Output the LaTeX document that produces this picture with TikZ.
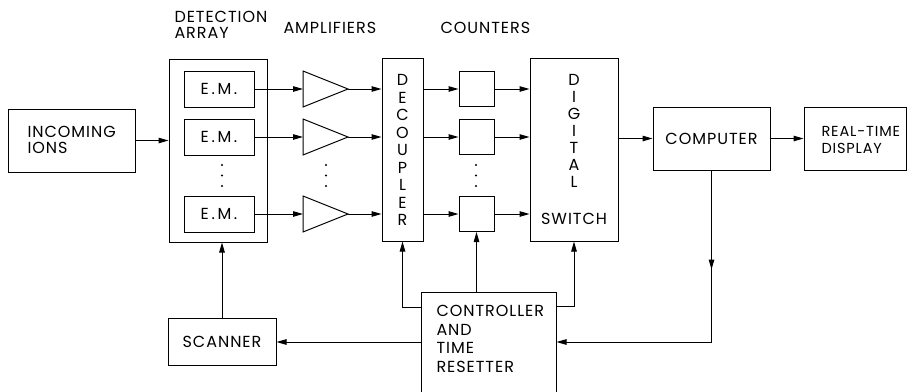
\documentclass[tikz,border=0pt]{standalone}
\usepackage{fontspec}
\setmainfont{Poppins}[LetterSpace=6]
\usetikzlibrary{arrows.meta}
\newcommand\myfs[1]{\fontsize{16}{#1}\selectfont}
\begin{document}
\begin{tikzpicture}[x=1pt,y=-1pt,
  line width=1pt,
  box/.style={draw, rectangle, inner sep=0pt, font=\myfs{17}},
  arr/.style={-{Triangle[length=10pt,width=5.5pt]}},
  lbl/.style={inner sep=0pt, align=left, anchor=west},
  dotc/.style={circle, fill, inner sep=0pt, minimum size=2.2pt},
  vtext/.style={inner sep=0pt, align=center}]
\path[use as bounding box] (0,0) rectangle (909,391);
\clip (0,0) rectangle (909,391);
\fill[white] (0,0) rectangle (909,391);

% top labels
\node[lbl, font=\myfs{16}] (lda) at (174,25) {DETECTION\\ARRAY};
\node[lbl, font=\myfs{16}] (lamp) at (283,28) {AMPLIFIERS};
\node[lbl, font=\myfs{16}] (lcnt) at (440,28) {COUNTERS};

% boxes
\node[box, minimum width=127pt, minimum height=63pt] (ions) at (71.5,140.5) {};
\node[lbl, font=\myfs{16}] (ionst) at (27,139.5) {INCOMING\\IONS};
\node[box, minimum width=98pt, minimum height=183pt] (array) at (218,150.5) {};
\node[box, minimum width=70pt, minimum height=36pt] (em1) at (219,89) {E\,.\,M\,.};
\node[box, minimum width=70pt, minimum height=36pt] (em2) at (219,137) {E\,.\,M\,.};
\node[box, minimum width=70pt, minimum height=36pt] (em3) at (219,214) {E\,.\,M\,.};

% amplifiers
\foreach \i/\y in {1/89,2/137,3/214}{
  \coordinate (a\i i) at (303,\y);
  \coordinate (a\i o) at (348,\y);
  \draw (303,\y-18) -- (a\i o) -- (303,\y+18) -- cycle;
}

\node[box, minimum width=41pt, minimum height=183pt] (dec) at (402.5,149.5) {};
\node[vtext, font=\myfs{17.5}] (dect) at (402.5,150) {D\\E\\C\\O\\U\\P\\L\\E\\R};

\node[box, minimum width=35pt, minimum height=35pt] (c1) at (476.5,89) {};
\node[box, minimum width=35pt, minimum height=35pt] (c2) at (476.5,137) {};
\node[box, minimum width=35pt, minimum height=35pt] (c3) at (476.5,214) {};

\node[box, minimum width=88pt, minimum height=183pt] (sw) at (574,149.5) {};
\node[vtext, font=\myfs{17}] (swt1) at (574,131) {D\\I\\G\\I\\T\\A\\L};
\node[vtext, font=\myfs{17}] (swt2) at (574,219) {SWITCH};

\node[box, minimum width=117pt, minimum height=63pt] (comp) at (711.5,138.5) {COMPUTER};
\node[box, minimum width=102pt, minimum height=63pt] (disp) at (855,138.5) {};
\node[lbl, font=\fontsize{14.5}{17.5}\selectfont] (dispt) at (821,140) {REAL-TIME\\DISPLAY};

\node[box, minimum width=135pt, minimum height=108pt] (ctrl) at (488.5,346) {};
\node[lbl, anchor=north west, font=\myfs{18.5}] (ctrlt) at (436,305) {CONTROLLER\\AND\\TIME\\RESETTER};

\node[box, minimum width=108pt, minimum height=47pt] (scan) at (222,342) {SCANNER};

% dots
\foreach \x in {222,326,476}{
  \foreach \y in {165,175.5,186}{
    \node[dotc] at (\x,\y) {};
  }
}

% connectors
\draw[arr] (ions.east) -- (ions.east -| array.west);
\foreach \i in {1,2,3}{
  \draw[arr] (em\i.east) -- (a\i i);
  \draw[arr] (a\i o) -- (a\i o -| dec.west);
  \draw[arr] (c\i.west -| dec.east) -- (c\i.west);
  \draw[arr] (c\i.east) -- (c\i.east -| sw.west);
}
\draw[arr] (sw.east |- comp.west) -- (comp.west);
\draw[arr] (comp.east) -- (disp.west);
\draw[arr] (scan.north) -- (scan.north |- array.south);
\draw[arr] (scan.east -| ctrl.west) -- (scan.east);
\draw[arr] (ctrl.north west) ++(0,16) -| (dec.south);
\draw[arr] (ctrl.north -| c3.south) -- (c3.south);
\draw[arr] (ctrl.north east) ++(0,15) -| (sw.south);
\draw[arr] (comp.south) |- (scan.east -| ctrl.east);
\draw[arr] (comp.south) -- ++(0,99);
\end{tikzpicture}
\end{document}
